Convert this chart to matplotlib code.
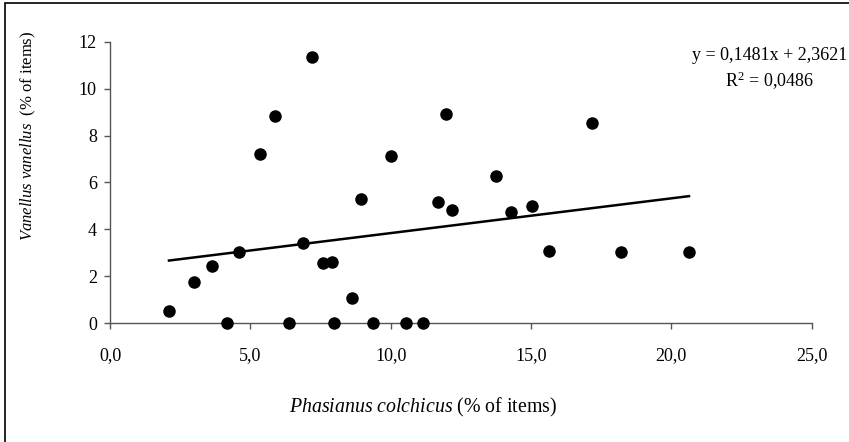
import numpy as np
import matplotlib
matplotlib.use("Agg")
import matplotlib.pyplot as plt
from matplotlib.patches import Rectangle

plt.rcParams['font.family'] = ['Liberation Serif', 'DejaVu Serif']
plt.rcParams['mathtext.fontset'] = 'custom'
plt.rcParams['mathtext.rm'] = 'Liberation Serif'
plt.rcParams['mathtext.it'] = 'Liberation Serif:italic'

# Phasianus colchicus (% of items) vs Vanellus vanellus (% of items)
pheasant = [2.1, 3.0, 3.64, 4.61, 4.16, 6.39, 7.98, 9.36, 10.53, 11.14,
            6.89, 7.60, 7.92, 8.62, 14.29, 15.02, 15.65, 12.17, 11.7, 8.94,
            18.2, 20.63, 17.16, 7.21, 11.96, 10.0, 13.74, 5.88, 5.34]
lapwing = [0.52, 1.75, 2.44, 3.04, 0.0, 0.0, 0.0, 0.0, 0.0, 0.0,
           3.43, 2.56, 2.61, 1.08, 4.73, 5.01, 3.09, 4.84, 5.17, 5.30,
           3.04, 3.04, 8.52, 11.33, 8.92, 7.13, 6.26, 8.82, 7.23]

slope = 0.1481
intercept = 2.3621
r2 = 0.0486

x_ticks = [0, 5, 10, 15, 20, 25]
x_tick_labels = ["0,0", "5,0", "10,0", "15,0", "20,0", "25,0"]
y_ticks = [0, 2, 4, 6, 8, 10, 12]

fig = plt.figure(figsize=(8.49, 4.42), dpi=100)
ax = fig.add_axes([0.1296, 0.2686, 0.8264, 0.6371])

ax.scatter(pheasant, lapwing, s=64, color='black', zorder=3, clip_on=False)

# trend line over the data range
xl = np.array([min(pheasant), max(pheasant)])
ax.plot(xl, slope * xl + intercept, color='black', lw=1.8, zorder=2)

ax.set_xlim(0, 25)
ax.set_ylim(0, 12)
ax.set_xticks(x_ticks)
ax.set_xticklabels(x_tick_labels)
ax.set_yticks(y_ticks)

for s in ['top', 'right']:
    ax.spines[s].set_visible(False)
for s in ['left', 'bottom']:
    ax.spines[s].set_color('#555555')
    ax.spines[s].set_linewidth(1.0)

ax.tick_params(axis='both', direction='out', length=4.5, width=1.0,
               color='#555555', labelsize=13)
ax.tick_params(axis='x', pad=13)
ax.tick_params(axis='y', pad=5)

fig.text(28 / 849, 1 - 136 / 442,
         r"$\it{Vanellus\ vanellus}$  (% of items)",
         rotation=90, ha='center', va='center', fontsize=12)
fig.text(423 / 849, 1 - 407 / 442,
         r"$\it{Phasianus\ colchicus}$ (% of items)",
         ha='center', va='center', fontsize=14.3)

fig.text(770 / 849, 1 - 55 / 442,
         "y = 0,1481x + 2,3621", ha='center', va='center', fontsize=13)
fig.text(770 / 849, 1 - 81 / 442,
         r"R$^{2}$ = 0,0486", ha='center', va='center', fontsize=13)

# outer frame (right and bottom edges fall outside the image)
fig.patches.append(Rectangle((5 / 849, -10 / 442), 860 / 849, 449 / 442,
                             transform=fig.transFigure, fill=False,
                             edgecolor='black', lw=1.2))

fig.savefig("out.png", dpi=100)
